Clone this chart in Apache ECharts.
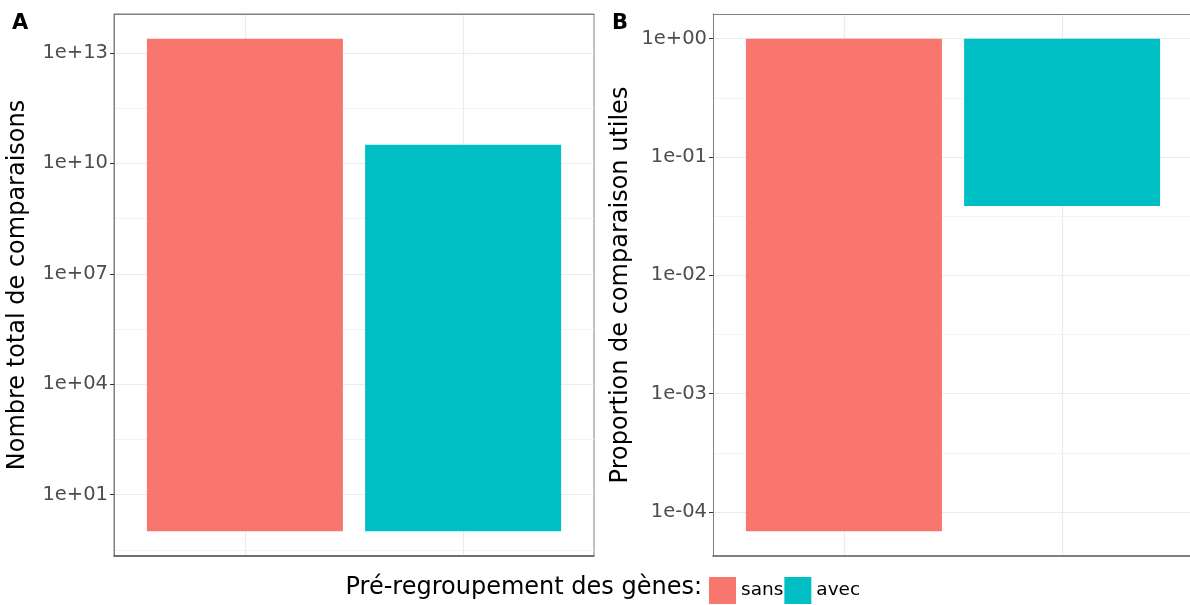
<!DOCTYPE html>
<html>
<head>
<meta charset="utf-8">
<script src="https://cdn.jsdelivr.net/npm/echarts@6/dist/echarts.min.js"></script>
<style>
  html, body { margin: 0; padding: 0; background: #ffffff; }
  #chart { width: 1190px; height: 605px; }
</style>
</head>
<body>
<div id="chart"></div>
<script>
// Gene pre-grouping: without ("sans") / with ("avec")
const groups = ['sans', 'avec'];
const groupColors = ['#F8766D', '#00BFC4'];

// Panel A: total number of comparisons
const totalComparisons = [2.45e13, 3.2e10];
const ticksA = [1e1, 1e4, 1e7, 1e10, 1e13];
const tickLabelsA = ['1e+01', '1e+04', '1e+07', '1e+10', '1e+13'];

// Panel B: proportion of useful comparisons
const usefulProportion = [6.87e-5, 0.0386];
const ticksB = [1e0, 1e-1, 1e-2, 1e-3, 1e-4];
const tickLabelsB = ['1e+00', '1e-01', '1e-02', '1e-03', '1e-04'];

const FONT = 'DejaVu Sans';
const log10 = v => Math.log10(v);

// log10 range of bars (baseline at 1) with 5% padding each side
function paddedRange(values) {
  const logs = values.map(log10);
  const lo = Math.min(0, ...logs), hi = Math.max(0, ...logs);
  const pad = (hi - lo) * 0.05;
  return [lo - pad, hi + pad];
}
// midpoints between major breaks, extended one step each side, kept within range
function minorBreaks(majors, range) {
  const m = majors.slice().sort((a, b) => a - b);
  const step = m[1] - m[0];
  const ext = [m[0] - step, ...m, m[m.length - 1] + step];
  const out = [];
  for (let i = 0; i < ext.length - 1; i++) {
    const v = (ext[i] + ext[i + 1]) / 2;
    if (v > range[0] && v < range[1]) out.push(v);
  }
  return out;
}

// Full panel is 480px wide for x in [0.4, 2.6]; panel B runs off the canvas edge,
// so its visible part is narrower and the x domain is cut accordingly.
const PANEL_W = 480;
const panels = [
  { values: totalComparisons, ticks: ticksA, labels: tickLabelsA,
    title: 'Nombre total de comparaisons', left: 114, width: 480, frame: true },
  { values: usefulProportion, ticks: ticksB, labels: tickLabelsB,
    title: 'Proportion de comparaison utiles', left: 713, width: 477, frame: false }
];

const grids = [], xAxes = [], yAxes = [], series = [];
panels.forEach((p, pi) => {
  const range = paddedRange(p.values);
  const majors = p.ticks.map(log10);
  const minors = minorBreaks(majors, range);
  const xMax = 0.4 + 2.2 * p.width / PANEL_W;
  grids.push({ left: p.left, top: 14, width: p.width, height: 542,
    show: p.frame, borderColor: '#808080', borderWidth: 1, backgroundColor: '#ffffff' });
  xAxes.push({
    type: 'value', gridIndex: pi, min: 0.4, max: xMax,
    axisLine: { show: true, onZero: false, lineStyle: { color: '#555555', width: 1.5 } },
    axisTick: { show: false, customValues: [1, 2] },
    axisLabel: { show: false, customValues: [1, 2] },
    splitLine: { show: true, lineStyle: { color: '#ebebeb', width: 1.2 } }
  });
  // top edge of the panel frame
  xAxes.push({
    type: 'value', gridIndex: pi, min: 0.4, max: xMax, position: 'top',
    axisLine: { show: true, onZero: false, lineStyle: { color: '#808080', width: 1 } },
    axisTick: { show: false }, axisLabel: { show: false }, splitLine: { show: false }
  });
  // major breaks, labels and titles
  yAxes.push({
    type: 'value', gridIndex: pi, min: range[0], max: range[1],
    name: p.title, nameLocation: 'middle', nameGap: pi === 0 ? 84 : 80,
    nameTextStyle: { fontFamily: FONT, fontSize: 24, color: '#000000' },
    axisLine: { show: true, onZero: false, lineStyle: { color: '#808080', width: 1 } },
    axisTick: { show: true, length: 4, customValues: majors, lineStyle: { color: '#333333', width: 1 } },
    axisLabel: {
      customValues: majors, margin: 6, fontFamily: FONT, fontSize: 19.5, color: '#4d4d4d',
      formatter: v => {
        const i = majors.findIndex(m => Math.abs(m - v) < 1e-9);
        return i >= 0 ? p.labels[i] : '';
      }
    },
    splitLine: { show: true, lineStyle: { color: '#ebebeb', width: 1.2 } }
  });
  // minor breaks (grid lines only)
  yAxes.push({
    type: 'value', gridIndex: pi, min: range[0], max: range[1], position: 'left',
    axisLine: { show: false }, axisLabel: { show: false, customValues: minors },
    axisTick: { show: false, customValues: minors },
    splitLine: { show: true, lineStyle: { color: '#f3f3f3', width: 1 } }
  });
  groups.forEach((g, gi) => {
    series.push({
      type: 'bar', name: g, xAxisIndex: pi * 2, yAxisIndex: pi * 2,
      barWidth: 196, barGap: '-100%',
      itemStyle: { color: groupColors[gi] },
      data: [[gi + 1, log10(p.values[gi])]],
      silent: true, animation: false
    });
  });
});

const chart = echarts.init(document.getElementById('chart'), null, { renderer: 'canvas' });
chart.setOption({
  backgroundColor: '#ffffff',
  animation: false,
  grid: grids,
  xAxis: xAxes,
  yAxis: yAxes,
  series: series,
  legend: {
    data: groups, left: 709, top: 577, padding: 0,
    icon: 'rect', itemWidth: 27, itemHeight: 27, itemGap: 1,
    selectedMode: false,
    textStyle: { fontFamily: FONT, fontSize: 18.5, color: '#000000' }
  },
  graphic: [
    { type: 'text', left: 12, top: 13,
      style: { text: 'A', font: 'bold 21px "DejaVu Sans"', fill: '#000000' } },
    { type: 'text', left: 612, top: 13,
      style: { text: 'B', font: 'bold 21px "DejaVu Sans"', fill: '#000000' } },
    { type: 'text', right: 1190 - 702, top: 576,
      style: { text: 'Pré-regroupement des gènes:', font: '24px "DejaVu Sans"', fill: '#000000',
        textAlign: 'right' } }
  ]
});
</script>
</body>
</html>
